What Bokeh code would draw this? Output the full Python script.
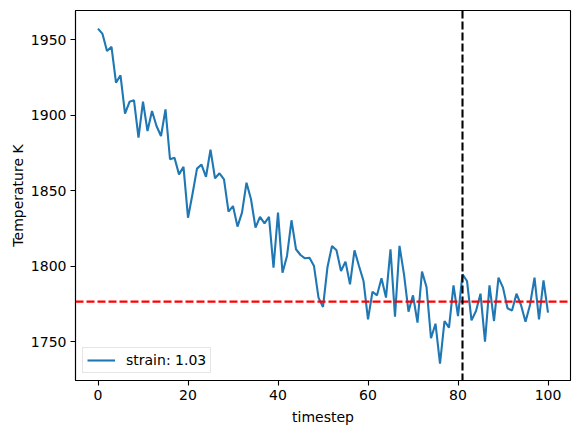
from bokeh.plotting import figure
from bokeh.models import Range1d, Span, FixedTicker, Legend, LegendItem
from bokeh.embed import file_html
from bokeh.resources import INLINE

timesteps = list(range(101))
temps = [1957.5, 1954, 1942.7, 1945.4, 1921.7, 1926.6, 1901.2, 1909, 1910, 1885.3,
         1909.2, 1889.7, 1903, 1893, 1886.4, 1904, 1871, 1872, 1861, 1866,
         1832.3, 1848, 1864.8, 1867.5, 1859.4, 1877.4, 1858.4, 1861.7, 1857.7, 1836.3,
         1840, 1826.4, 1835.7, 1855.5, 1844.5, 1825.7, 1832.8, 1828.6, 1832.8, 1799.2,
         1835.7, 1795.9, 1807, 1830.6, 1811.4, 1807.6, 1805.4, 1805.8, 1800.3, 1779.4,
         1773.2, 1799.7, 1813.6, 1810.7, 1797, 1803.2, 1788.2, 1810.7, 1800.3, 1790.4,
         1765, 1783.3, 1780.9, 1792.2, 1779.4, 1811.4, 1766.8, 1813.6, 1794.8, 1770.1,
         1780.9, 1762.8, 1796.6, 1786.4, 1752.5, 1762.1, 1735.6, 1763.9, 1759.5, 1787.5,
         1767.2, 1794.8, 1790.4, 1764.3, 1770.5, 1782, 1750.2, 1787.5, 1763.9, 1792.6,
         1786, 1772.3, 1770.9, 1782, 1774.5, 1763.4, 1774.5, 1792.6, 1765, 1790.8,
         1769.4]
mean_temp = 1776.7
marker_step = 81
legend_label = "strain: 1.03"
x_ticks = [0, 20, 40, 60, 80, 100]
y_ticks = [1750, 1800, 1850, 1900, 1950]

FONT = "DejaVu Sans"
FS = "14px"

p = figure(frame_width=495, frame_height=370,
           min_border_left=75, min_border_right=4, min_border_top=10, min_border_bottom=44,
           x_range=Range1d(-5, 105), y_range=Range1d(1724.5, 1969.5),
           output_backend="svg", toolbar_location=None)

p.xgrid.visible = False
p.ygrid.visible = False
p.outline_line_color = "black"
p.outline_line_width = 1.1
p.outline_line_alpha = 1

for ax in (p.xaxis[0], p.yaxis[0]):
    ax.major_tick_out = 5
    ax.major_tick_in = 0
    ax.minor_tick_out = 0
    ax.minor_tick_in = 0
    ax.major_tick_line_width = 1.1
    ax.axis_line_width = 1.1
    ax.major_label_text_font = FONT
    ax.major_label_text_font_size = FS
    ax.major_label_text_color = "black"
    ax.axis_label_text_font = FONT
    ax.axis_label_text_font_size = FS
    ax.axis_label_text_font_style = "normal"
    ax.axis_label_text_color = "black"
    ax.axis_line_color = "black"
    ax.major_tick_line_color = "black"
    ax.major_label_standoff = 4
    ax.axis_label_standoff = 6

p.yaxis[0].axis_label_standoff = 2

p.xaxis[0].ticker = FixedTicker(ticks=x_ticks)
p.yaxis[0].ticker = FixedTicker(ticks=y_ticks)
p.xaxis[0].axis_label = "timestep"
p.yaxis[0].axis_label = "Temperature K"

r = p.line(timesteps, temps, line_color="#1f77b4", line_width=2.1)

p.add_layout(Span(location=mean_temp, dimension="width", line_color="red",
                  line_dash="8 3", line_width=2.1))
p.add_layout(Span(location=marker_step, dimension="height", line_color="black",
                  line_dash="8 3", line_width=2.1))

legend = Legend(items=[LegendItem(label=legend_label, renderers=[r])],
                location="bottom_left", margin=7, padding=4, spacing=0,
                glyph_width=28, glyph_height=14, label_height=14, label_standoff=11,
                label_text_font=FONT, label_text_font_size=FS, label_text_color="black",
                border_line_color="#cccccc", border_line_width=1,
                background_fill_alpha=0.8)
p.add_layout(legend)

open("out.html", "w").write(file_html(p, INLINE))
